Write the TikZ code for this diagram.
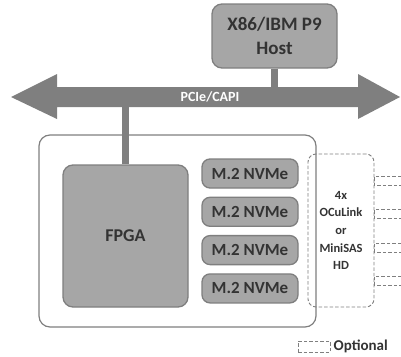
\documentclass[tikz,border=0pt]{standalone}
\usepackage{fontspec}
\setmainfont{Carlito}
\usepackage{tikz}
\usetikzlibrary{positioning}

\definecolor{boxgray}{HTML}{A6A6A6}
\definecolor{linegray}{HTML}{7F7F7F}
\definecolor{txtgray}{HTML}{333333}

\tikzset{
  part/.style={draw=linegray, fill=boxgray, line width=1.3pt, rounded corners=10pt,
    text=txtgray, font=\bfseries\fontsize{17}{24}\selectfont, align=center, inner sep=0pt},
  board/.style={draw=linegray, fill=white, line width=1.2pt, rounded corners=11pt},
  optbox/.style={draw=linegray, dash pattern=on 3.5pt off 2pt, line width=0.9pt, rounded corners=8pt,
    text=txtgray, font=\bfseries\fontsize{12.5}{17.7}\selectfont, align=center},
  link/.style={draw=linegray, line width=7.5pt},
  optline/.style={draw=linegray, dash pattern=on 3.5pt off 2pt, line width=0.9pt}
}

\begin{document}
\begin{tikzpicture}[x=1pt,y=-1pt]
\useasboundingbox (0,0) rectangle (401,356);

% bus arrow
\fill [linegray] (11,97) -- (57,74) -- (57,87) -- (358,87) -- (358,74) -- (400,97)
  -- (358,119) -- (358,107) -- (57,107) -- (57,119) -- cycle;
\node [text=white, font=\bfseries\fontsize{14}{16}\selectfont] (bus) at (210,97) {PCIe/CAPI};
\coordinate (bustop) at (0,87);
\coordinate (busbot) at (0,107);

% host
\node [part, font=\bfseries\fontsize{19}{24}\selectfont, minimum width=125pt, minimum height=64pt] (host) at (274.5,36) {X86/IBM P9\\Host};

% board
\node [board, minimum width=277pt, minimum height=192pt] (card) at (177.5,231) {};
\node [part, font=\bfseries\fontsize{18}{24}\selectfont, minimum width=125pt, minimum height=142pt] (fpga) at (125.5,236) {FPGA};

\foreach \i in {0,...,3}
  \node [part, rounded corners=8pt, minimum width=96pt, minimum height=29pt] (nvme\i) at (250,173.5+38.3*\i) {M.2 NVMe};

\node [optbox, minimum width=66pt, minimum height=153pt] (ocu) at (341,230.5) {4x\\OCuLink\\or\\MiniSAS\\HD};

% optional cables
\foreach \y in {181,214,247.5,280.5}
  \draw [optline] (401,\y-4.5) -- (ocu.east |- 0,\y-4.5) -- (ocu.east |- 0,\y+4.5) -- (401,\y+4.5);

% links to the bus
\draw [link] (host.south) -- (host.south |- bustop);
\draw [link] (fpga.north) -- (fpga.north |- busbot);

% legend
\node [optline, minimum width=32pt, minimum height=11pt, inner sep=0pt] (legbox) at (314,346.5) {};
\node [right=3pt of legbox, inner sep=0pt, text=txtgray, font=\bfseries\fontsize{15}{17}\selectfont] (legtxt) {Optional};
\end{tikzpicture}
\end{document}
